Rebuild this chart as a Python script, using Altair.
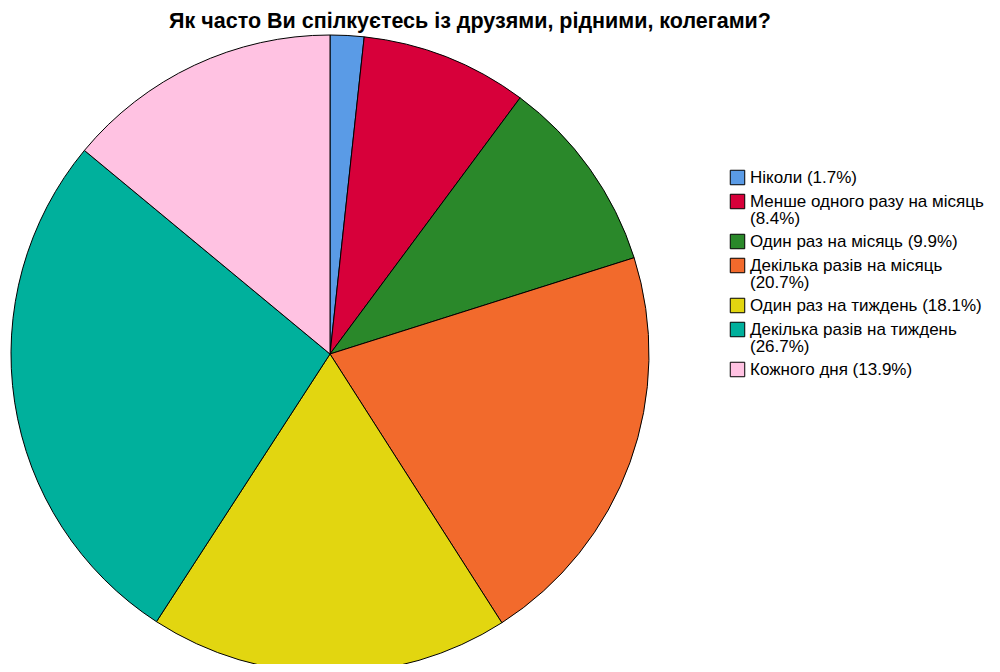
import altair as alt
import pandas as pd

categories = [
    "Ніколи",
    "Менше одного разу на місяць",
    "Один раз на місяць",
    "Декілька разів на місяць",
    "Один раз на тиждень",
    "Декілька разів на тиждень",
    "Кожного дня",
]
percents = [1.7, 8.4, 9.9, 20.7, 18.1, 26.7, 13.9]
wrap = [False, True, False, True, False, True, False]
colors = ["#5A9BE6", "#D7003A", "#2A882A", "#F26A2C", "#E2D610", "#00B09C", "#FFC2E2"]

labels = [
    f"{c}\n({p}%)" if w else f"{c} ({p}%)"
    for c, p, w in zip(categories, percents, wrap)
]
df = pd.DataFrame({"label": labels, "value": percents, "order": list(range(len(labels)))})

chart = (
    alt.Chart(df)
    .mark_arc(stroke="black", strokeWidth=1, x=322, y=316, outerRadius=319)
    .encode(
        theta=alt.Theta("value:Q", stack=True),
        order=alt.Order("order:Q"),
        color=alt.Color(
            "label:N",
            scale=alt.Scale(domain=labels, range=colors),
            sort=labels,
            legend=alt.Legend(
                title=None,
                orient="none",
                legendX=721,
                legendY=131,
                symbolType="square",
                symbolSize=210,
                symbolStrokeColor="black",
                symbolStrokeWidth=1,
                labelFont="Liberation Sans",
                labelFontSize=17,
                labelColor="black",
                labelLimit=400,
                labelExpr="split(datum.label, '\\n')",
                rowPadding=5,
                symbolOffset=0,
                labelOffset=4,
            ),
        ),
    )
    .properties(
        width=984,
        height=626,
        padding={"left": 0, "top": 30, "right": 0, "bottom": 0},
        autosize=alt.AutoSizeParams(type="none"),
        title=alt.TitleParams(
            "Як часто Ви спілкуєтесь із друзями, рідними, колегами?",
            font="Liberation Sans",
            fontSize=21.5,
            fontWeight="bold",
            color="black",
            anchor="middle",
            dx=-30,
            offset=1,
        ),
    )
    .configure(style={"guide-label": {"lineHeight": 17}})
    .configure_view(stroke=None)
)

chart.save("out.html", embed_options={"renderer": "svg", "actions": False})
